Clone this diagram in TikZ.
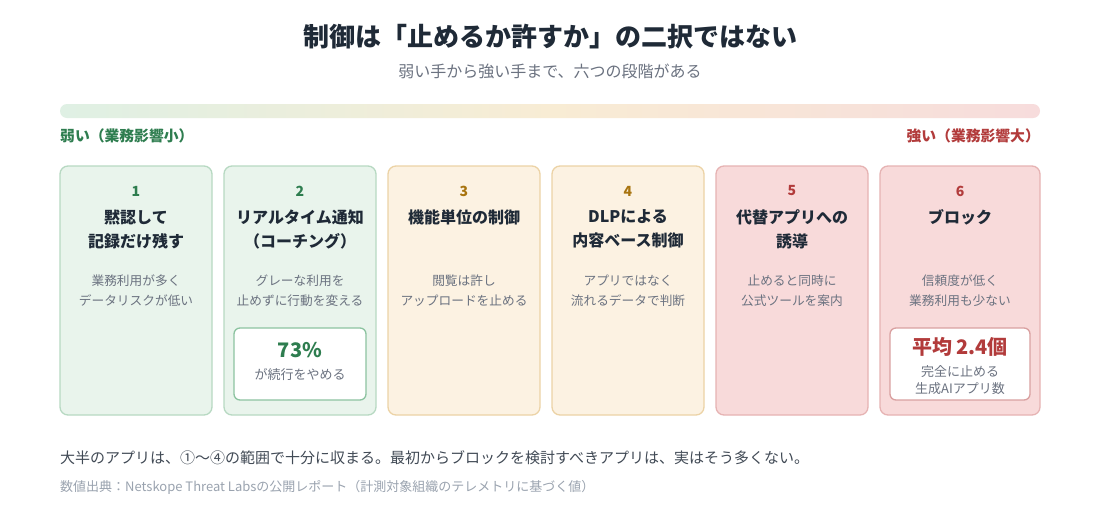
\documentclass[tikz,border=0pt]{standalone}
\usepackage{fontspec}
\setmainfont{Noto Sans CJK JP}
\usetikzlibrary{shapes.misc}
\definecolor{tdark}{HTML}{1F2A37}
\definecolor{tgray}{HTML}{6B7280}
\definecolor{tlight}{HTML}{9AA3AF}
\definecolor{gtxt}{HTML}{2E7D4F}
\definecolor{rtxt}{HTML}{B23B3B}
\definecolor{btxt}{HTML}{A8740F}
\definecolor{gfill}{HTML}{E9F4EC}
\definecolor{gline}{HTML}{B7D9C2}
\definecolor{cfill}{HTML}{FCF2E2}
\definecolor{cline}{HTML}{ECD3A6}
\definecolor{pfill}{HTML}{F8DADA}
\definecolor{pline}{HTML}{E6B3B3}
\definecolor{gstat}{HTML}{8CC3A0}
\definecolor{rstat}{HTML}{D9A0A0}
\definecolor{barl}{HTML}{DFF0E4}
\definecolor{barm}{HTML}{F8ECD4}
\definecolor{barr}{HTML}{F7DCDC}
\tikzset{
  card/.style={draw=#1line, fill=#1fill, line width=1.3pt, rounded corners=8pt},
  statbox/.style={draw=#1, fill=white, line width=1.3pt, rounded corners=6pt},
  numtxt/.style={font=\bfseries\fontsize{14}{16}\selectfont, text=#1},
  ttltxt/.style={font=\bfseries\fontsize{16}{24}\selectfont, text=tdark, align=center},
  desctxt/.style={font=\fontsize{12.7}{20}\selectfont, text=tgray, align=center},
}
\begin{document}
\begin{tikzpicture}[x=1pt,y=-1pt]
\useasboundingbox[fill=white] (0,0) rectangle (1100,520);
% title
\node[font=\bfseries\fontsize{26}{30}\selectfont, text=tdark] (title) at (550,37) {制御は「止めるか許すか」の二択ではない};
\node[font=\fontsize{16}{18}\selectfont, text=tgray] (sub) at (550,71) {弱い手から強い手まで、六つの段階がある};
% bar
\path[left color=barl, right color=barr, middle color=barm, rounded corners=7pt] (60,104) rectangle (1040,118);
\node[anchor=west, inner sep=0pt, font=\bfseries\fontsize{14.8}{16}\selectfont, text=gtxt] (weak) at (60,136) {弱い（業務影響小）};
\node[anchor=east, inner sep=0pt, font=\bfseries\fontsize{14.8}{16}\selectfont, text=rtxt] (strong) at (1040,136) {強い（業務影響大）};
% cards
\draw[card=g] (60,166) rectangle (212,415);
\draw[card=g] (224,166) rectangle (376,415);
\draw[card=c] (388,166) rectangle (540,415);
\draw[card=c] (552,166) rectangle (704,415);
\draw[card=p] (716,166) rectangle (868,415);
\draw[card=p] (880,166) rectangle (1040,415);
% card 1
\node[numtxt=gtxt] (n1) at (136,191) {1};
\node[ttltxt] (t1) at (136,229) {黙認して\\記録だけ残す};
\node[desctxt] (d1) at (136,291) {業務利用が多く\\データリスクが低い};
% card 2
\node[numtxt=gtxt] (n2) at (300,191) {2};
\node[ttltxt] (t2) at (300,229) {リアルタイム通知\\（コーチング）};
\node[desctxt] (d2) at (300,291) {グレーな利用を\\止めずに行動を変える};
\draw[statbox=gstat] (234,328) rectangle (366,400);
\node[font=\bfseries\fontsize{20}{22}\selectfont, text=gtxt] (s2) at (300,350) {73\%};
\node[font=\fontsize{13}{15}\selectfont, text=tgray] (s2b) at (300,375) {が続行をやめる};
% card 3
\node[numtxt=btxt] (n3) at (464,191) {3};
\node[ttltxt] (t3) at (464,217) {機能単位の制御};
\node[desctxt] (d3) at (464,291) {閲覧は許し\\アップロードを止める};
% card 4
\node[numtxt=btxt] (n4) at (628,191) {4};
\node[ttltxt] (t4) at (628,229) {DLPによる\\内容ベース制御};
\node[desctxt] (d4) at (628,291) {アプリではなく\\流れるデータで判断};
% card 5
\node[numtxt=rtxt] (n5) at (792,191) {5};
\node[ttltxt] (t5) at (792,229) {代替アプリへの\\誘導};
\node[desctxt] (d5) at (792,291) {止めると同時に\\公式ツールを案内};
% card 6
\node[numtxt=rtxt] (n6) at (960,191) {6};
\node[ttltxt] (t6) at (960,217) {ブロック};
\node[desctxt] (d6) at (960,291) {信頼度が低く\\業務利用も少ない};
\draw[statbox=rstat] (890,328) rectangle (1030,400);
\node[font=\bfseries\fontsize{20}{22}\selectfont, text=rtxt] (s6) at (960,347) {平均 2.4個};
\node[font=\fontsize{13}{17}\selectfont, text=tgray, align=center] (s6b) at (960,380) {完全に止める\\生成AIアプリ数};
% bottom
\node[anchor=west, inner sep=0pt, font=\fontsize{15}{18}\selectfont, text=tdark!85] (foot) at (60,458) {大半のアプリは、①〜④の範囲で十分に収まる。最初からブロックを検討すべきアプリは、実はそう多くない。};
\node[anchor=west, inner sep=0pt, font=\fontsize{13}{15}\selectfont, text=tlight] (src) at (60,487) {数値出典：Netskope Threat Labsの公開レポート（計測対象組織のテレメトリに基づく値）};
\end{tikzpicture}
\end{document}
